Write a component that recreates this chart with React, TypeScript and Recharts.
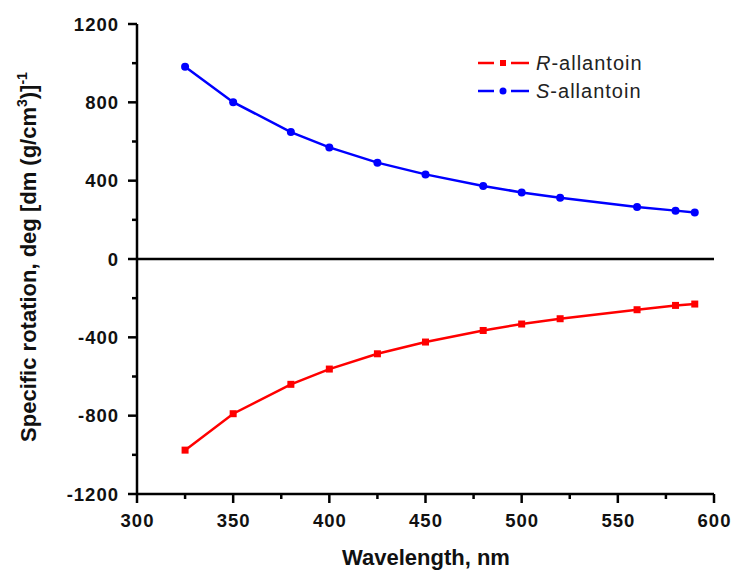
import React from 'react';
import { LineChart, Line, XAxis, YAxis, ReferenceLine } from 'recharts';

const wavelengths = [325, 350, 380, 400, 425, 450, 480, 500, 520, 560, 580, 590];
const sAllantoin = [982, 801, 648, 570, 492, 432, 373, 340, 313, 266, 247, 237];
const rAllantoin = [-976, -790, -640, -562, -484, -424, -365, -332, -305, -259, -237, -230];

const xTicks = [300, 325, 350, 375, 400, 425, 450, 475, 500, 525, 550, 575, 600];
const xMajor = [300, 350, 400, 450, 500, 550, 600];
const yTicks = [-1200, -1000, -800, -600, -400, -200, 0, 200, 400, 600, 800, 1000, 1200];
const yMajor = [-1200, -800, -400, 0, 400, 800, 1200];

const data = wavelengths.map((w, i) => ({ w, s: sAllantoin[i], r: rAllantoin[i] }));

const FONT = '"Liberation Sans", Arial, sans-serif';

// custom ticks: draw the tick mark and (for majors) the label
const XTick = (props: any) => {
  const { x, y, payload } = props;
  const major = xMajor.includes(payload.value);
  return (
    <g>
      <line x1={x} y1={y} x2={x} y2={y + (major ? 9 : 5)} stroke="#000" strokeWidth={2.5} />
      {major && (
        <text x={x + 0.5} y={y + 33} textAnchor="middle" fontFamily={FONT} fontWeight="bold" fontSize={18.5} letterSpacing={1} fill="#111">
          {payload.value}
        </text>
      )}
    </g>
  );
};

const YTick = (props: any) => {
  const { x, y, payload } = props;
  const major = yMajor.includes(payload.value);
  return (
    <g>
      <line x1={x} y1={y} x2={x - (major ? 9 : 5)} y2={y} stroke="#000" strokeWidth={2.5} />
      {major && (
        <text x={x - 18} y={y + 6.5} textAnchor="end" fontFamily={FONT} fontWeight="bold" fontSize={18.5} letterSpacing={1} fill="#111">
          {payload.value}
        </text>
      )}
    </g>
  );
};

const SquareDot = (props: any) => {
  const { cx, cy, index } = props;
  if (cx == null || cy == null) return <g key={index} />;
  return <rect key={index} x={cx - 3.5} y={cy - 3.5} width={7} height={7} fill="#ff0000" />;
};

const LegendBox = () => (
  <svg width={220} height={60} style={{ display: 'block' }}>
    <line x1={0} y1={13} x2={16} y2={13} stroke="#ff0000" strokeWidth={2.5} />
    <rect x={22} y={10} width={6} height={6} fill="#ff0000" />
    <line x1={33} y1={13} x2={51} y2={13} stroke="#ff0000" strokeWidth={2.5} />
    <text x={58} y={20} fontFamily={FONT} fontSize={20} letterSpacing={1} fill="#222">
      <tspan fontStyle="italic">R</tspan>-allantoin
    </text>
    <line x1={0} y1={41} x2={16} y2={41} stroke="#0000ff" strokeWidth={2.5} />
    <circle cx={25} cy={41} r={3.5} fill="#0000ff" />
    <line x1={33} y1={41} x2={51} y2={41} stroke="#0000ff" strokeWidth={2.5} />
    <text x={58} y={48} fontFamily={FONT} fontSize={20} letterSpacing={1} fill="#222">
      <tspan fontStyle="italic">S</tspan>-allantoin
    </text>
  </svg>
);

const App: React.FC = () => {
  return (
    <div style={{ position: 'absolute', left: 0, top: 0, width: 739, height: 572, background: '#fff' }}>
      <LineChart width={739} height={572} data={data} margin={{ top: 24, right: 25, left: 0, bottom: 0 }}>
        <XAxis
          dataKey="w"
          type="number"
          domain={[300, 600]}
          ticks={xTicks}
          interval={0}
          height={78}
          tickLine={false}
          tickSize={0}
          tickMargin={0}
          tick={<XTick />}
          axisLine={{ stroke: '#000', strokeWidth: 2.5 }}
        />
        <YAxis
          type="number"
          domain={[-1200, 1200]}
          ticks={yTicks}
          interval={0}
          width={137}
          tickLine={false}
          tickSize={0}
          tickMargin={0}
          tick={<YTick />}
          axisLine={{ stroke: '#000', strokeWidth: 2.5 }}
        />
        <ReferenceLine y={0} stroke="#000" strokeWidth={2.5} />
        <Line
          dataKey="r"
          stroke="#ff0000"
          strokeWidth={2.5}
          dot={<SquareDot />}
          activeDot={false}
          isAnimationActive={false}
        />
        <Line
          dataKey="s"
          stroke="#0000ff"
          strokeWidth={2.5}
          dot={{ r: 4, fill: '#0000ff', stroke: 'none' }}
          activeDot={false}
          isAnimationActive={false}
        />
      </LineChart>
      <div style={{ position: 'absolute', left: 478, top: 50 }}>
        <LegendBox />
      </div>
      <svg width={739} height={572} style={{ position: 'absolute', left: 0, top: 0, pointerEvents: 'none' }}>
        <text x={426} y={565} textAnchor="middle" fontFamily={FONT} fontWeight="bold" fontSize={22} fill="#111">
          Wavelength, nm
        </text>
        <text
          transform="translate(36, 257) rotate(-90)"
          textAnchor="middle"
          fontFamily={FONT}
          fontWeight="bold"
          fontSize={22}
          fill="#111"
        >
          Specific rotation, deg [dm (g/cm
          <tspan fontSize={14} dy={-9}>3</tspan>
          <tspan dy={9}>)]</tspan>
          <tspan fontSize={14} dy={-9}>-1</tspan>
        </text>
      </svg>
    </div>
  );
};

export default App;
